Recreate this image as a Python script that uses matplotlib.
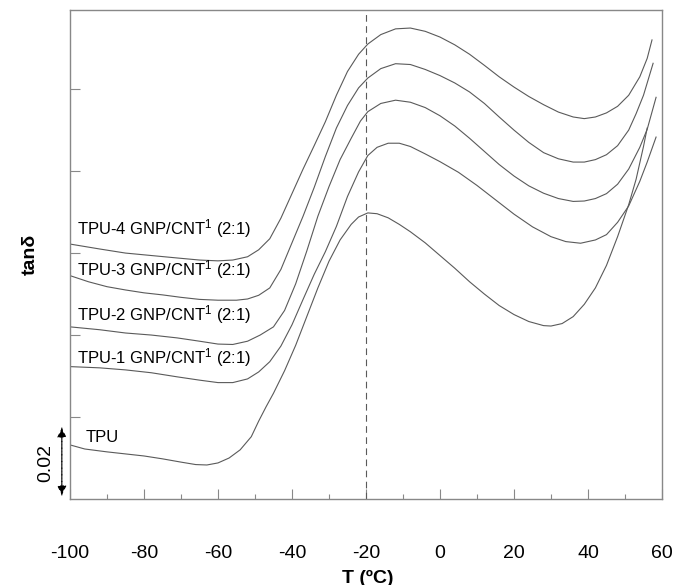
import matplotlib
matplotlib.use("Agg")
import matplotlib.pyplot as plt

plt.rcParams["font.family"] = ["Liberation Sans", "DejaVu Sans"]
plt.rcParams["axes.unicode_minus"] = False
plt.rcParams["mathtext.fontset"] = "custom"
plt.rcParams["mathtext.rm"] = "Liberation Sans"
plt.rcParams["mathtext.default"] = "rm"

# temperature (C) and tan delta, one pair of lists per sample
tpu_t = [-100, -96, -90, -85, -80, -75, -70, -66, -63, -60, -57, -54, -51, -49, -47, -45, -42,
         -39, -36, -33, -30, -27, -24, -22, -19.5, -17, -14, -11, -8, -4, 0, 4, 8, 12, 16, 20,
         24, 28, 30, 33, 36, 39, 42, 45, 48, 51, 53, 55, 56]
tpu_y = [0.0132, 0.0122, 0.0115, 0.0110, 0.0105, 0.0098, 0.0090, 0.0084, 0.0083, 0.0088, 0.0100,
         0.0120, 0.0152, 0.0190, 0.0225, 0.0258, 0.0313, 0.0375, 0.0445, 0.0515, 0.0580, 0.0632,
         0.0670, 0.0688, 0.0698, 0.0696, 0.0686, 0.0670, 0.0652, 0.0625, 0.0594, 0.0563, 0.0530,
         0.0500, 0.0472, 0.0450, 0.0433, 0.0423, 0.0422, 0.0428, 0.0445, 0.0475, 0.0515, 0.0570,
         0.0640, 0.0718, 0.0780, 0.0860, 0.0905]

tpu1_t = [-100, -92, -85, -78, -71, -65, -60, -56, -52, -49, -46, -43, -40, -37, -34, -31, -28,
          -25, -22, -19.5, -17, -14, -11, -8, -4, 0, 5, 10, 15, 20, 25, 30, 34, 38, 42, 45, 48,
          51, 54, 56, 58.4]
tpu1_y = [0.0323, 0.0320, 0.0315, 0.0308, 0.0298, 0.0290, 0.0284, 0.0284, 0.0293, 0.0310, 0.0335,
          0.0373, 0.0425, 0.0487, 0.0548, 0.0603, 0.0665, 0.0738, 0.0798, 0.0838, 0.0858, 0.0868,
          0.0868, 0.0860, 0.0842, 0.0823, 0.0797, 0.0765, 0.0730, 0.0695, 0.0664, 0.0640, 0.0628,
          0.0624, 0.0632, 0.0645, 0.0675, 0.0715, 0.0775, 0.0822, 0.0883]

tpu2_t = [-100, -92, -85, -78, -71, -65, -60, -56, -52, -48.6, -45, -42, -39, -36, -33, -30, -27,
          -24, -21.5, -19.5, -16, -12, -8, -4, 0, 4, 8, 12, 16, 20, 24, 28, 32, 36, 39, 42, 45,
          48, 51, 54, 56, 58.4]
tpu2_y = [0.0420, 0.0413, 0.0405, 0.0400, 0.0393, 0.0385, 0.0378, 0.0377, 0.0385, 0.0400, 0.0420,
          0.0460, 0.0525, 0.0605, 0.0690, 0.0762, 0.0828, 0.0880, 0.0922, 0.0945, 0.0965, 0.0973,
          0.0968, 0.0955, 0.0935, 0.0910, 0.0880, 0.0848, 0.0816, 0.0788, 0.0764, 0.0746, 0.0733,
          0.0726, 0.0727, 0.0733, 0.0745, 0.0768, 0.0805, 0.0858, 0.0902, 0.0980]

tpu3_t = [-100, -95, -90, -85, -80, -75, -70, -65, -60, -55, -52, -49, -46, -43, -40, -37, -34,
          -31, -28, -25, -22, -19.5, -16, -12, -8, -4, 0, 4, 8, 12, 16, 20, 24, 28, 32, 36, 39,
          42, 45, 48, 51, 53, 55, 57.6]
tpu3_y = [0.0545, 0.0530, 0.0518, 0.0510, 0.0503, 0.0498, 0.0492, 0.0487, 0.0485, 0.0485, 0.0488,
          0.0497, 0.0515, 0.0560, 0.0625, 0.0690, 0.0760, 0.0835, 0.0905, 0.0960, 0.1003, 0.1027,
          0.1050, 0.1062, 0.1060, 0.1048, 0.1033, 0.1015, 0.0993, 0.0965, 0.0932, 0.0900, 0.0870,
          0.0845, 0.0830, 0.0822, 0.0822, 0.0828, 0.0840, 0.0862, 0.0900, 0.0940, 0.0985, 0.1063]

tpu4_t = [-100, -92, -85, -78, -71, -65, -60, -56, -52, -49, -46, -43, -40, -37, -34, -31, -28,
          -25, -22, -19.5, -16, -12, -8, -4, 0, 4, 8, 12, 16, 20, 24, 28, 32, 36, 39, 42, 45, 48,
          51, 54, 56, 57.3]
tpu4_y = [0.0622, 0.0610, 0.0600, 0.0594, 0.0588, 0.0583, 0.0581, 0.0583, 0.0591, 0.0608, 0.0635,
          0.0685, 0.0745, 0.0805, 0.0862, 0.0920, 0.0985, 0.1043, 0.1085, 0.1110, 0.1133, 0.1147,
          0.1149, 0.1141, 0.1127, 0.1108, 0.1085, 0.1058, 0.1030, 0.1005, 0.0982, 0.0962, 0.0944,
          0.0932, 0.0928, 0.0932, 0.0942, 0.0958, 0.0985, 0.1030, 0.1075, 0.1120]

series = [(tpu_t, tpu_y), (tpu1_t, tpu1_y), (tpu2_t, tpu2_y), (tpu3_t, tpu3_y), (tpu4_t, tpu4_y)]

# curve labels: text, x, y (data)
labels = ["TPU", "TPU-1 GNP/CNT$^{1}$ (2:1)", "TPU-2 GNP/CNT$^{1}$ (2:1)",
          "TPU-3 GNP/CNT$^{1}$ (2:1)", "TPU-4 GNP/CNT$^{1}$ (2:1)"]
label_x = [-95.7, -98.0, -98.0, -98.0, -98.0]
label_y = [0.0132, 0.0318, 0.0423, 0.0532, 0.0633]

x_ticks = [-100, -80, -60, -40, -20, 0, 20, 40, 60]
y_ticks = [0.02, 0.04, 0.06, 0.08, 0.10]
ref_t = -20
scale_bar = 0.02

line_col = "#5a5a5a"
frame_col = "#888888"

fig = plt.figure(figsize=(6.88, 5.85), dpi=100)
ax = fig.add_axes([0.1017, 0.147, 0.8605, 0.8359])

for t, y in series:
    ax.plot(t, y, color=line_col, linewidth=0.8)

ax.axvline(ref_t, color=line_col, linestyle=(0, (6, 4)), linewidth=0.8)

for txt, lx, ly in zip(labels, label_x, label_y):
    ax.text(lx, ly, txt, fontsize=12, color="black", va="bottom", ha="left")

ax.set_xlim(-100, 60)
ax.set_ylim(0, 0.1193)
ax.set_xticks(x_ticks)
ax.set_xticks(range(-90, 60, 20), minor=True)
ax.set_yticks(y_ticks)
ax.set_yticklabels([])
ax.tick_params(axis="x", which="major", direction="in", length=7, width=0.8,
               color=frame_col, labelsize=14, pad=33)
ax.tick_params(axis="x", which="minor", direction="in", length=3.5, width=0.8, color=frame_col)
ax.tick_params(axis="y", which="major", direction="in", length=7, width=0.8, color=frame_col)
for sp in ax.spines.values():
    sp.set_color(frame_col)
    sp.set_linewidth(1.0)

fig.text(0.535, 0.012, "T (\u00baC)", fontsize=14, fontweight="bold", ha="center", va="center")
fig.text(0.044, 0.565, "tan\u03b4", rotation=90, fontsize=14, fontweight="bold",
         ha="center", va="center")

# 0.02 scale bar on the left of the frame
for y0, y1 in [(0.0180, 0.0003), (0.0003, 0.0180)]:
    ax.annotate("", xy=(-102.2, y1), xytext=(-102.2, y0), annotation_clip=False,
                arrowprops=dict(arrowstyle="-|>", color="black", linestyle=(0, (3, 3)),
                                linewidth=0.8, mutation_scale=14))
ax.text(-106.5, 0.0088, f"{scale_bar:.2f}", rotation=90, fontsize=14,
        ha="center", va="center", clip_on=False)

fig.savefig("out.png", dpi=100)
